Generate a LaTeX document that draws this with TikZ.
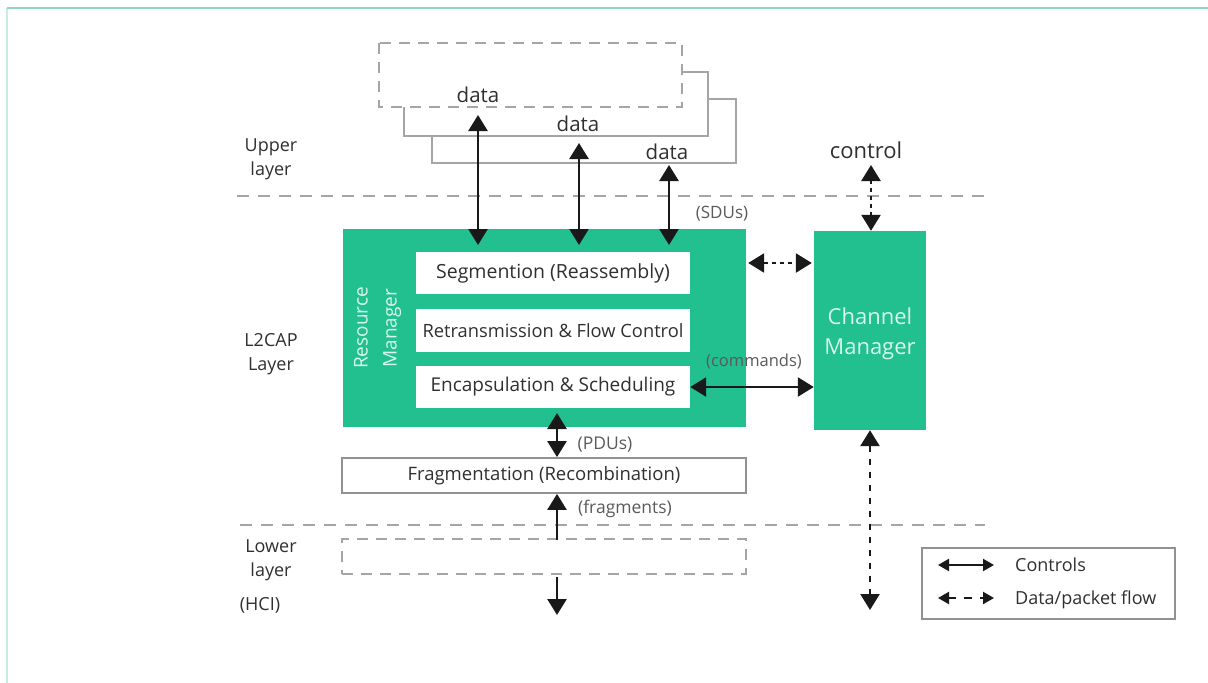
\documentclass[tikz,border=0pt]{standalone}
\usepackage{fontspec}
\setmainfont{Open Sans}
\usetikzlibrary{arrows.meta}
\definecolor{rmgreen}{RGB}{33,192,142}
\definecolor{mint}{RGB}{214,248,234}
\definecolor{ink}{RGB}{48,48,48}
\definecolor{linegray}{RGB}{165,165,165}
\definecolor{boxgray}{RGB}{145,145,145}
\definecolor{frametop}{RGB}{140,218,190}
\definecolor{frameside}{RGB}{200,238,224}
\tikzset{
  fs/.style={font=\fontsize{#1}{#1}\selectfont},
  txt/.style={text=ink, inner sep=0pt},
  greenbox/.style={fill=rmgreen, draw=none, inner sep=0pt},
  whitebox/.style={fill=white, draw=none, inner sep=0pt, text=ink, fs=19.5},
  outlinebox/.style={fill=white, draw=boxgray, line width=1.8pt, inner sep=0pt, text=ink},
  ghostbox/.style={draw=linegray, line width=2pt, dash pattern=on 11pt off 8pt, inner sep=0pt},
  layerline/.style={draw=linegray, line width=2.6pt, dash pattern=on 12pt off 9pt},
  stack/.style={draw=linegray, line width=2pt, fill=white},
  flow/.style={draw=black!90, line width=2.5pt, {Triangle[length=16pt, width=19pt]}-{Triangle[length=16pt, width=19pt]}},
  oneway/.style={draw=black!90, line width=2.5pt, -{Triangle[length=16pt, width=19pt]}},
  packet/.style={flow, dash pattern=on 6pt off 7pt},
  fine/.style={dash pattern=on 4pt off 4pt},
  keyarrow/.style={draw=black!90, line width=2.2pt, {Triangle[length=11pt, width=12pt]}-{Triangle[length=11pt, width=12pt]}},
}
\begin{document}
\begin{tikzpicture}[x=1pt, y=-1pt]
\useasboundingbox (0,0) rectangle (1208,683);
\fill[white] (0,0) rectangle (1208,683);

% page frame
\draw[frameside, line width=2pt] (7,683) -- (7,8);
\draw[frametop, line width=2.2pt] (7,8) -- (1208,8);

% layer separators
\draw[layerline] (237,196) -- (985,196);
\draw[layerline] (240,525) -- (985,525);

% layer names
\node[txt, align=center, font=\fontsize{18}{24.5}\selectfont] (upper) at (271,159) {Upper\\layer};
\node[txt, align=center, font=\fontsize{18}{24.5}\selectfont] (l2cap) at (271,354) {L2CAP\\Layer};
\node[txt, align=center, font=\fontsize{18}{24.5}\selectfont] (lower) at (271,560) {Lower\\layer};
\node[txt, fs=18] (hci) at (260,605) {(HCI)};

% stacked upper-layer data buffers
\draw[stack] (432,99) rectangle (736,163);
\draw[stack] (404,72) rectangle (708,136);
\draw[ghostbox, fill=white] (379,43) rectangle (682,107);
\node[txt, fs=20.5] (data1) at (478,95) {data};
\node[txt, fs=20.5] (data2) at (578,124) {data};
\node[txt, fs=20.5] (data3) at (667,152) {data};

% resource manager
\node[greenbox, minimum width=403pt, minimum height=198pt] (rm) at (544.5,328) {};
\node[text=mint, rotate=90, align=center, inner sep=0pt, font=\fontsize{19}{29}\selectfont] (rmlabel) at (377.5,328) {Resource\\Manager};
\node[whitebox, minimum width=274pt, minimum height=42pt] (seg) at (553,273) {Segmention (Reassembly)};
\node[whitebox, fs=18.3, minimum width=274pt, minimum height=43pt] (ret) at (553,330.5) {Retransmission \& Flow Control};
\node[whitebox, fs=19, minimum width=274pt, minimum height=42pt] (enc) at (553,387) {Encapsulation \& Scheduling};

% channel manager
\node[greenbox, minimum width=112pt, minimum height=199pt] (cm) at (870,330.5) {};
\node[text=mint, align=center, inner sep=0pt, font=\fontsize{22}{30}\selectfont] (cmlabel) at (870,334) {Channel\\Manager};
\node[txt, fs=22] (control) at (866,150) {control};

% fragmentation and lower layer
\node[outlinebox, minimum width=404pt, minimum height=35pt, fs=18.5] (frag) at (544,475.5) {Fragmentation (Recombination)};
\node[ghostbox, minimum width=404pt, minimum height=35pt] (hcibox) at (544,556.5) {};

% flow labels
\node[txt, fs=17, text=ink!80] (sdus) at (722,214) {(SDUs)};
\node[txt, fs=16.5, text=ink!80] (cmds) at (754,362) {(commands)};
\node[txt, fs=17.5, text=ink!80] (pdus) at (605,445) {(PDUs)};
\node[txt, fs=17.5, text=ink!80] (frgs) at (625,509) {(fragments)};

% arrow end points
\coordinate (d1) at (478,115);
\coordinate (d2) at (579,143);
\coordinate (d3) at (669,165);
\coordinate (s1) at (478,245);
\coordinate (s2) at (579,245);
\coordinate (s3) at (669,245);
\coordinate (ctop) at (871,165);
\coordinate (pdutop) at (557,413);
\coordinate (fragin) at (557,540);
\coordinate (hciout) at (557,577);
\coordinate (hciend) at (557,615);
\coordinate (cmend) at (870,610);

% connectors
\draw[flow] (d1) -- (s1);
\draw[flow] (d2) -- (s2);
\draw[flow] (d3) -- (s3);
\draw[packet, fine] (ctop) -- (ctop |- cm.north);
\draw[packet, fine] ([xshift=2pt]rm.east |- 0,263) -- ([xshift=-2pt]cm.west |- 0,263);
\draw[flow] (enc.east) -- (cm.west |- enc.east);
\draw[flow] (pdutop) -- (pdutop |- frag.north);
\draw[oneway] (fragin) -- (fragin |- frag.south);
\draw[oneway] (hciout) -- (hciend);
\draw[packet] (cm.south) -- (cmend);

% legend
\node[outlinebox, minimum width=253pt, minimum height=71pt] (key) at (1048.5,583.5) {};
\coordinate (k1a) at (938,565);
\coordinate (k1b) at (994,565);
\coordinate (k2a) at (938,598);
\coordinate (k2b) at (994,598);
\draw[keyarrow] (k1a) -- (k1b);
\draw[keyarrow, dash pattern=on 8pt off 8pt] (k2a) -- (k2b);
\node[txt, fs=18, anchor=west] (kctl) at (1015,565) {Controls};
\node[txt, fs=18, anchor=west] (kdata) at (1015,600) {Data/packet flow};
\end{tikzpicture}
\end{document}
